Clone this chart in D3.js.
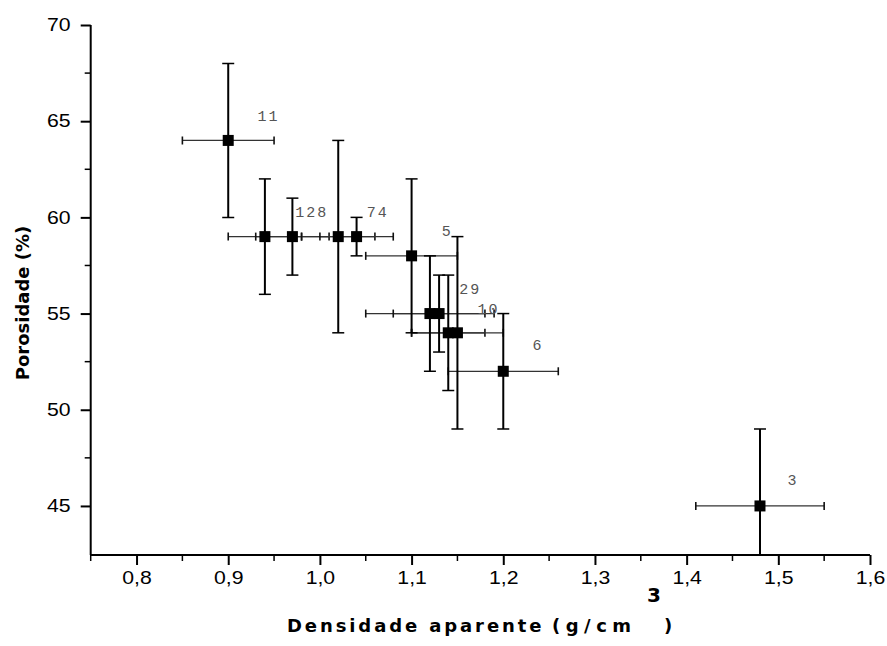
<!DOCTYPE html>
<html>
<head>
<meta charset="utf-8">
<script src="https://cdn.jsdelivr.net/npm/d3@7/dist/d3.min.js"></script>
<style>
  html, body { margin: 0; padding: 0; background: #fff; }
  svg { display: block; }
</style>
</head>
<body>
<svg id="chart" width="887" height="646"></svg>
<script>
// ---- data ----
const density   = [0.90, 0.94, 0.97, 1.02, 1.04, 1.10, 1.12, 1.13, 1.14, 1.15, 1.20, 1.48];
const porosity  = [64,   59,   59,   59,   59,   58,   55,   55,   54,   54,   52,   45];
const densErr   = [0.05, 0.04, 0.04, 0.04, 0.04, 0.05, 0.07, 0.05, 0.04, 0.05, 0.06, 0.07];
const poroErr   = [4,    3,    2,    5,    1,    4,    3,    2,    3,    5,    3,    4];

const labelText = ["11", "128", "74", "5", "29", "10", "6", "3"];
const labelX    = [0.932, 0.973, 1.051, 1.133, 1.152, 1.172, 1.232, 1.510];
const labelY    = [65.0,  60.0,  60.0,  59.05, 56.04, 55.0,  53.1,  46.09];

const xTicks = [0.8, 0.9, 1.0, 1.1, 1.2, 1.3, 1.4, 1.5, 1.6];
const xMinor = [0.75, 0.85, 0.95, 1.05, 1.15, 1.25, 1.35, 1.45, 1.55];
const yTicks = [45, 50, 55, 60, 65, 70];
const yMinor = [47.5, 52.5, 57.5, 62.5, 67.5];

const xTitleParts = ["Densidade aparente", "(g/cm", "3", ")"];
const yTitle = "Porosidade (%)";

// ---- layout ----
const svg = d3.select("#chart");
const x = d3.scaleLinear().domain([0.75, 1.6]).range([90.7, 870]);
const y = d3.scaleLinear().domain([42.45, 70]).range([555, 25]);
const fmt = d => d3.format(".1f")(d).replace(".", ",");

svg.append("defs").append("clipPath").attr("id", "plotclip")
  .append("rect").attr("x", x(0.75)).attr("y", 0)
  .attr("width", x(1.6) - x(0.75) + 5).attr("height", y(42.45));

const plot = svg.append("g").attr("clip-path", "url(#plotclip)");

const pts = density.map((d, i) => ({ x: d, y: porosity[i], dx: densErr[i], dy: poroErr[i] }));

// horizontal error bars
const hb = plot.append("g").attr("stroke", "#333").attr("stroke-width", 1.3).attr("fill", "none");
pts.forEach(p => {
  hb.append("line").attr("x1", x(p.x - p.dx)).attr("x2", x(p.x + p.dx)).attr("y1", y(p.y)).attr("y2", y(p.y));
  [p.x - p.dx, p.x + p.dx].forEach(v => {
    hb.append("line").attr("x1", x(v)).attr("x2", x(v)).attr("y1", y(p.y) - 4).attr("y2", y(p.y) + 4)
      .attr("stroke", "#111").attr("stroke-width", 1.6);
  });
});

// vertical error bars
const vb = plot.append("g").attr("stroke", "#000").attr("fill", "none");
pts.forEach(p => {
  vb.append("line").attr("x1", x(p.x)).attr("x2", x(p.x)).attr("y1", y(p.y - p.dy)).attr("y2", y(p.y + p.dy))
    .attr("stroke-width", 2);
  [p.y - p.dy, p.y + p.dy].forEach(v => {
    vb.append("line").attr("x1", x(p.x) - 6).attr("x2", x(p.x) + 6).attr("y1", y(v)).attr("y2", y(v))
      .attr("stroke-width", 1.5);
  });
});

// markers
const ms = 11;
plot.append("g").selectAll("rect").data(pts).join("rect")
  .attr("x", d => x(d.x) - ms / 2).attr("y", d => y(d.y) - ms / 2)
  .attr("width", ms).attr("height", ms).attr("fill", "#000");

// point labels
svg.append("g").selectAll("text").data(labelText).join("text")
  .attr("x", (d, i) => x(labelX[i])).attr("y", (d, i) => y(labelY[i]))
  .attr("font-family", "'Liberation Mono', 'DejaVu Sans Mono', monospace")
  .attr("font-size", 15).attr("fill", "#555").attr("letter-spacing", 2)
  .text(d => d);

// axes
const xAxis = d3.axisBottom(x).tickValues(xTicks).tickFormat(fmt).tickSize(10).tickPadding(6);
const gx = svg.append("g").attr("transform", `translate(0,${y(42.45)})`).call(xAxis);
gx.select(".domain").attr("d", `M${x(0.75)},0H${x(1.6)}`).attr("stroke-width", 2);
gx.selectAll(".tick line").attr("stroke-width", 2);
gx.selectAll(".tick text").attr("font-family", "'Liberation Sans', Arial, sans-serif")
  .attr("font-size", 18).attr("fill", "#000").attr("transform", "scale(1.18,1)");
svg.append("g").selectAll("line").data(xMinor).join("line")
  .attr("x1", d => x(d)).attr("x2", d => x(d)).attr("y1", y(42.45)).attr("y2", y(42.45) + 6)
  .attr("stroke", "#000").attr("stroke-width", 1.5);

const yAxis = d3.axisLeft(y).tickValues(yTicks).tickFormat(d3.format("d")).tickSize(10).tickPadding(7);
const gy = svg.append("g").attr("transform", `translate(${x(0.75)},0)`).call(yAxis);
gy.select(".domain").attr("d", `M0,${y(70)}V${y(42.45)}`).attr("stroke-width", 2);
gy.selectAll(".tick line").attr("stroke-width", 2);
gy.selectAll(".tick text").attr("font-family", "'Liberation Sans', Arial, sans-serif")
  .attr("font-size", 18).attr("fill", "#000").attr("transform", "scale(1.18,1)");
svg.append("g").selectAll("line").data(yMinor).join("line")
  .attr("x1", x(0.75) - 6).attr("x2", x(0.75)).attr("y1", d => y(d)).attr("y2", d => y(d))
  .attr("stroke", "#000").attr("stroke-width", 1.5);

// axis titles
const xt = svg.append("text").attr("y", 632)
  .attr("font-family", "'DejaVu Sans', Verdana, sans-serif").attr("font-weight", "bold")
  .attr("font-size", 18).attr("fill", "#000");
xt.append("tspan").attr("x", 287).attr("letter-spacing", 2.9).text(xTitleParts[0]);
xt.append("tspan").attr("x", 552).attr("letter-spacing", 5.5).text(xTitleParts[1]);
xt.append("tspan").attr("x", 647).attr("dy", -30).attr("font-size", 20).text(xTitleParts[2]);
xt.append("tspan").attr("x", 664).attr("dy", 30).text(xTitleParts[3]);

svg.append("text").attr("transform", "translate(29,303) rotate(-90)")
  .attr("text-anchor", "middle")
  .attr("font-family", "'DejaVu Sans', Verdana, sans-serif").attr("font-weight", "bold")
  .attr("font-size", 18).attr("fill", "#000").text(yTitle);
</script>
</body>
</html>
